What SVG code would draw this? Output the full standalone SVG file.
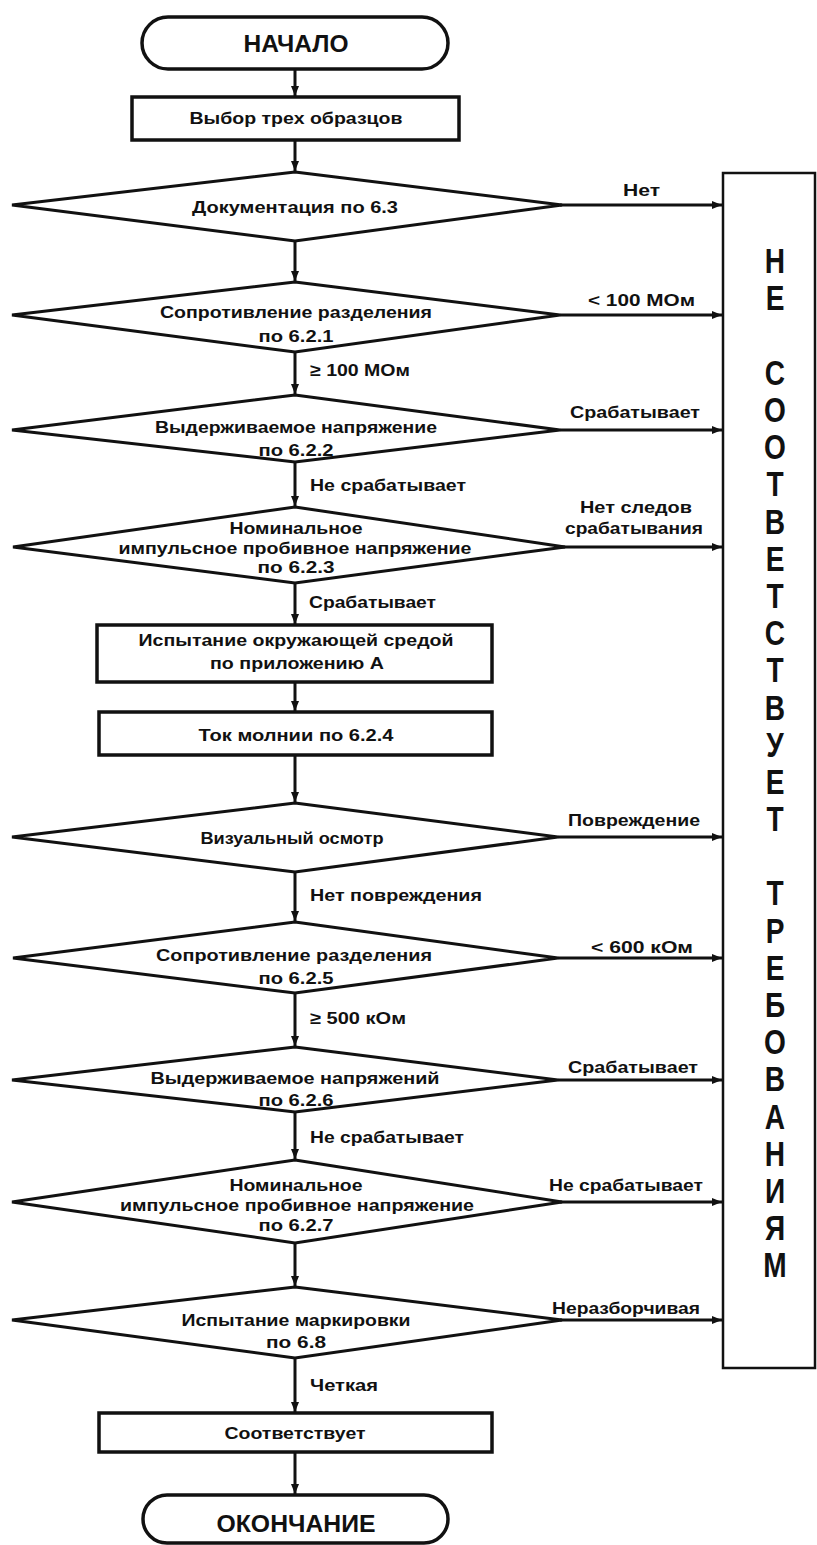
<svg xmlns="http://www.w3.org/2000/svg" width="817" height="1545" viewBox="0 0 817 1545">
<style>
.sh{fill:#fff;stroke:#111;stroke-width:3.5}
.dm{fill:#fff;stroke:#111;stroke-width:3}
.c{stroke:#111;stroke-width:3;fill:none}
.t{font-family:"Liberation Sans",Arial,sans-serif;font-weight:bold;font-size:17px;fill:#111}
.m{text-anchor:middle}
.big{font-size:24px}
.v{font-family:"Liberation Sans",Arial,sans-serif;font-weight:bold;font-size:36px;fill:#111;text-anchor:middle}
</style>
<defs>
<marker id="ah" markerUnits="userSpaceOnUse" markerWidth="10" markerHeight="8" refX="10" refY="4" orient="auto">
<path d="M0,0 L10,4 L0,8 z" fill="#111"/>
</marker>
</defs>
<rect width="817" height="1545" fill="#fff"/>

<g id="connectors">
<line class="c" x1="295" y1="70" x2="295" y2="96" marker-end="url(#ah)"/>
<line class="c" x1="295" y1="140" x2="295" y2="171" marker-end="url(#ah)"/>
<line class="c" x1="295" y1="241" x2="295" y2="281" marker-end="url(#ah)"/>
<line class="c" x1="295" y1="352" x2="295" y2="394" marker-end="url(#ah)"/>
<line class="c" x1="295" y1="462" x2="295" y2="506" marker-end="url(#ah)"/>
<line class="c" x1="295" y1="583" x2="295" y2="624" marker-end="url(#ah)"/>
<line class="c" x1="295" y1="682" x2="295" y2="711" marker-end="url(#ah)"/>
<line class="c" x1="295" y1="755" x2="295" y2="802" marker-end="url(#ah)"/>
<line class="c" x1="295" y1="872" x2="295" y2="921" marker-end="url(#ah)"/>
<line class="c" x1="295" y1="993" x2="295" y2="1046" marker-end="url(#ah)"/>
<line class="c" x1="295" y1="1112" x2="295" y2="1159" marker-end="url(#ah)"/>
<line class="c" x1="295" y1="1243" x2="295" y2="1286" marker-end="url(#ah)"/>
<line class="c" x1="295" y1="1358" x2="295" y2="1412" marker-end="url(#ah)"/>
<line class="c" x1="295" y1="1452" x2="295" y2="1494" marker-end="url(#ah)"/>
<line class="c" x1="560" y1="205" x2="722" y2="205" marker-end="url(#ah)"/>
<line class="c" x1="560" y1="315" x2="722" y2="315" marker-end="url(#ah)"/>
<line class="c" x1="560" y1="430" x2="722" y2="430" marker-end="url(#ah)"/>
<line class="c" x1="562" y1="547" x2="722" y2="547" marker-end="url(#ah)"/>
<line class="c" x1="558" y1="837" x2="722" y2="837" marker-end="url(#ah)"/>
<line class="c" x1="558" y1="958" x2="722" y2="958" marker-end="url(#ah)"/>
<line class="c" x1="558" y1="1080" x2="722" y2="1080" marker-end="url(#ah)"/>
<line class="c" x1="560" y1="1202" x2="722" y2="1202" marker-end="url(#ah)"/>
<line class="c" x1="560" y1="1320" x2="722" y2="1320" marker-end="url(#ah)"/>
<text class="t" x="623" y="196" textLength="37" lengthAdjust="spacingAndGlyphs">Нет</text>
<text class="t" x="588" y="306" textLength="107" lengthAdjust="spacingAndGlyphs">&lt; 100 МОм</text>
<text class="t" x="310" y="376" textLength="100" lengthAdjust="spacingAndGlyphs">≥ 100 МОм</text>
<text class="t" x="570" y="418" textLength="130" lengthAdjust="spacingAndGlyphs">Срабатывает</text>
<text class="t" x="310" y="491" textLength="156" lengthAdjust="spacingAndGlyphs">Не срабатывает</text>
<text class="t" x="580" y="513" textLength="112" lengthAdjust="spacingAndGlyphs">Нет следов</text>
<text class="t" x="565" y="534" textLength="138" lengthAdjust="spacingAndGlyphs">срабатывания</text>
<text class="t" x="309" y="608" textLength="127" lengthAdjust="spacingAndGlyphs">Срабатывает</text>
<text class="t" x="568" y="826" textLength="132" lengthAdjust="spacingAndGlyphs">Повреждение</text>
<text class="t" x="310" y="901" textLength="172" lengthAdjust="spacingAndGlyphs">Нет повреждения</text>
<text class="t" x="591" y="953" textLength="102" lengthAdjust="spacingAndGlyphs">&lt; 600 кОм</text>
<text class="t" x="310" y="1024" textLength="96" lengthAdjust="spacingAndGlyphs">≥ 500 кОм</text>
<text class="t" x="568" y="1073" textLength="130" lengthAdjust="spacingAndGlyphs">Срабатывает</text>
<text class="t" x="310" y="1143" textLength="154" lengthAdjust="spacingAndGlyphs">Не срабатывает</text>
<text class="t" x="549" y="1191" textLength="154" lengthAdjust="spacingAndGlyphs">Не срабатывает</text>
<text class="t" x="552" y="1314" textLength="148" lengthAdjust="spacingAndGlyphs">Неразборчивая</text>
<text class="t" x="310" y="1391" textLength="68" lengthAdjust="spacingAndGlyphs">Четкая</text>
</g>

<g id="start">
<rect class="sh" x="142" y="17" width="306" height="52" rx="26"/>
<text class="t big m" x="296" y="52" textLength="105" lengthAdjust="spacingAndGlyphs">НАЧАЛО</text>
</g>
<g id="select">
<rect class="sh" x="132" y="97" width="327" height="43"/>
<text class="t m" x="296" y="124" textLength="213" lengthAdjust="spacingAndGlyphs">Выбор трех образцов</text>
</g>
<g id="d1">
<polygon class="dm" points="295,172 562,205 295,241 12,205"/>
<text class="t m" x="295" y="213" textLength="206" lengthAdjust="spacingAndGlyphs">Документация по 6.3</text>
</g>
<g id="d2">
<polygon class="dm" points="295,282 560,315 295,352 12,315"/>
<text class="t m" x="296" y="318" textLength="272" lengthAdjust="spacingAndGlyphs">Сопротивление разделения</text>
<text class="t m" x="296" y="342" textLength="75" lengthAdjust="spacingAndGlyphs">по 6.2.1</text>
</g>
<g id="d3">
<polygon class="dm" points="295,395 560,430 295,462 12,430"/>
<text class="t m" x="296" y="433" textLength="282" lengthAdjust="spacingAndGlyphs">Выдерживаемое напряжение</text>
<text class="t m" x="296" y="456" textLength="75" lengthAdjust="spacingAndGlyphs">по 6.2.2</text>
</g>
<g id="d4">
<polygon class="dm" points="295,507 565,547 295,583 13,547"/>
<text class="t m" x="296" y="534" textLength="133" lengthAdjust="spacingAndGlyphs">Номинальное</text>
<text class="t m" x="295" y="554" textLength="353" lengthAdjust="spacingAndGlyphs">импульсное пробивное напряжение</text>
<text class="t m" x="296" y="573" textLength="77" lengthAdjust="spacingAndGlyphs">по 6.2.3</text>
</g>
<g id="env">
<rect class="sh" x="97" y="625" width="395" height="57"/>
<text class="t m" x="296" y="646" textLength="315" lengthAdjust="spacingAndGlyphs">Испытание окружающей средой</text>
<text class="t m" x="297" y="669" textLength="174" lengthAdjust="spacingAndGlyphs">по приложению А</text>
</g>
<g id="lightning">
<rect class="sh" x="99" y="712" width="393" height="43"/>
<text class="t m" x="296" y="741" textLength="195" lengthAdjust="spacingAndGlyphs">Ток молнии по 6.2.4</text>
</g>
<g id="d5">
<polygon class="dm" points="295,803 558,837 295,872 12,837"/>
<text class="t m" x="292" y="844" textLength="183" lengthAdjust="spacingAndGlyphs">Визуальный осмотр</text>
</g>
<g id="d6">
<polygon class="dm" points="295,922 558,958 295,993 13,958"/>
<text class="t m" x="294" y="961" textLength="276" lengthAdjust="spacingAndGlyphs">Сопротивление разделения</text>
<text class="t m" x="296" y="984" textLength="75" lengthAdjust="spacingAndGlyphs">по 6.2.5</text>
</g>
<g id="d7">
<polygon class="dm" points="295,1047 558,1080 295,1112 12,1080"/>
<text class="t m" x="295" y="1084" textLength="289" lengthAdjust="spacingAndGlyphs">Выдерживаемое напряжений</text>
<text class="t m" x="296" y="1106" textLength="75" lengthAdjust="spacingAndGlyphs">по 6.2.6</text>
</g>
<g id="d8">
<polygon class="dm" points="295,1160 562,1202 295,1243 12,1202"/>
<text class="t m" x="296" y="1191" textLength="133" lengthAdjust="spacingAndGlyphs">Номинальное</text>
<text class="t m" x="297" y="1211" textLength="354" lengthAdjust="spacingAndGlyphs">импульсное пробивное напряжение</text>
<text class="t m" x="296" y="1231" textLength="75" lengthAdjust="spacingAndGlyphs">по 6.2.7</text>
</g>
<g id="d9">
<polygon class="dm" points="295,1287 562,1320 295,1358 12,1320"/>
<text class="t m" x="296" y="1326" textLength="229" lengthAdjust="spacingAndGlyphs">Испытание маркировки</text>
<text class="t m" x="296" y="1348" textLength="60" lengthAdjust="spacingAndGlyphs">по 6.8</text>
</g>
<g id="ok">
<rect class="sh" x="99" y="1413" width="393" height="39"/>
<text class="t m" x="295" y="1439" textLength="141" lengthAdjust="spacingAndGlyphs">Соответствует</text>
</g>
<g id="end">
<rect class="sh" x="143" y="1495" width="305" height="48" rx="24"/>
<text class="t big m" x="296" y="1532" textLength="159" lengthAdjust="spacingAndGlyphs">ОКОНЧАНИЕ</text>
</g>

<g id="nonconform">
<rect x="723" y="173" width="92" height="1195" fill="none" stroke="#111" stroke-width="2.5"/>
<g transform="translate(775 0) scale(0.78 1)">
<text class="v" x="0" y="273">Н</text>
<text class="v" x="0" y="310">Е</text>
<text class="v" x="0" y="385">С</text>
<text class="v" x="0" y="422">О</text>
<text class="v" x="0" y="459">О</text>
<text class="v" x="0" y="496">Т</text>
<text class="v" x="0" y="534">В</text>
<text class="v" x="0" y="571">Е</text>
<text class="v" x="0" y="608">Т</text>
<text class="v" x="0" y="645">С</text>
<text class="v" x="0" y="682">Т</text>
<text class="v" x="0" y="720">В</text>
<text class="v" x="0" y="757">У</text>
<text class="v" x="0" y="794">Е</text>
<text class="v" x="0" y="831">Т</text>
<text class="v" x="0" y="905">Т</text>
<text class="v" x="0" y="943">Р</text>
<text class="v" x="0" y="980">Е</text>
<text class="v" x="0" y="1017">Б</text>
<text class="v" x="0" y="1054">О</text>
<text class="v" x="0" y="1091">В</text>
<text class="v" x="0" y="1129">А</text>
<text class="v" x="0" y="1166">Н</text>
<text class="v" x="0" y="1203">И</text>
<text class="v" x="0" y="1240">Я</text>
<text class="v" x="0" y="1277">М</text>
</g>
</g>
</svg>
